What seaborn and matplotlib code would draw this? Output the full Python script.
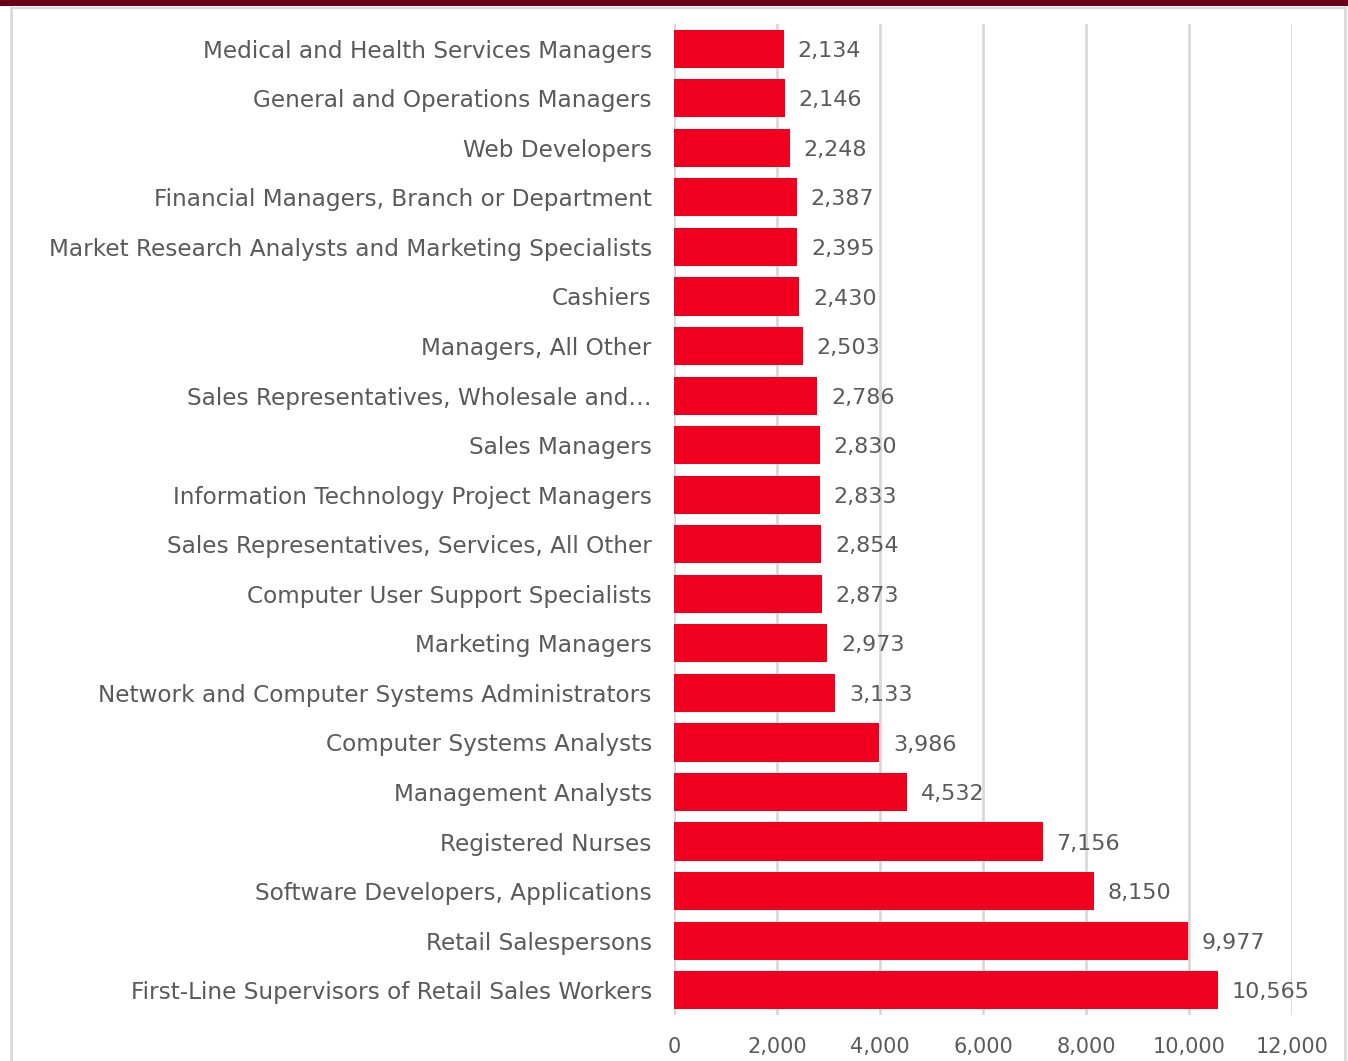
import matplotlib
matplotlib.use("Agg")
import matplotlib.pyplot as plt
import seaborn as sns
import pandas as pd
from matplotlib.patches import Rectangle
from matplotlib.lines import Line2D

occupations = [
    "Medical and Health Services Managers",
    "General and Operations Managers",
    "Web Developers",
    "Financial Managers, Branch or Department",
    "Market Research Analysts and Marketing Specialists",
    "Cashiers",
    "Managers, All Other",
    "Sales Representatives, Wholesale and…",
    "Sales Managers",
    "Information Technology Project Managers",
    "Sales Representatives, Services, All Other",
    "Computer User Support Specialists",
    "Marketing Managers",
    "Network and Computer Systems Administrators",
    "Computer Systems Analysts",
    "Management Analysts",
    "Registered Nurses",
    "Software Developers, Applications",
    "Retail Salespersons",
    "First-Line Supervisors of Retail Sales Workers",
]
postings = [2134, 2146, 2248, 2387, 2395, 2430, 2503, 2786, 2830, 2833,
            2854, 2873, 2973, 3133, 3986, 4532, 7156, 8150, 9977, 10565]
xticks = [0, 2000, 4000, 6000, 8000, 10000, 12000]

df = pd.DataFrame({"occupation": occupations, "postings": postings})

sns.set_theme(style="white")
plt.rcParams['font.family'] = ['DejaVu Sans']

TEXT = "#5a5a5a"
BAR = "#f0001e"
GRID = "#d9d9d9"

fig = plt.figure(figsize=(13.48, 10.61), dpi=100)
ax = fig.add_axes([0.5, 0.0434, 0.4585, 0.934])

sns.barplot(data=df, x="postings", y="occupation", color=BAR, width=0.77,
            saturation=1, ax=ax, edgecolor="none")

ax.set_xlim(0, 12000)
ax.set_ylim(len(occupations) - 0.5, -0.5)
ax.set_xticks(xticks)
ax.set_xticklabels([f"{t:,}" for t in xticks])
ax.xaxis.grid(True, color=GRID, linewidth=2)
ax.set_axisbelow(True)
for s in ax.spines.values():
    s.set_visible(False)
ax.axvline(0, color=GRID, linewidth=2, zorder=0)
ax.set_xlabel("")
ax.set_ylabel("")
ax.tick_params(axis="both", length=0, colors=TEXT)
ax.tick_params(axis="y", pad=16, labelsize=16.7)
ax.tick_params(axis="x", pad=16, labelsize=15)

for c in ax.containers:
    labels = ax.bar_label(c, labels=[f"{v:,}" for v in postings], padding=10,
                          color=TEXT, fontsize=16)
    for t in labels:
        t.set_va("center")
        t.xyann = (10, -1.5)

# frame decorations
fig.patches.append(Rectangle((0, 1 - 6 / 1061), 1, 6 / 1061, transform=fig.transFigure,
                             facecolor="#6d0019", edgecolor="none"))
fig.lines.append(Line2D([11 / 1348, 11 / 1348], [0, 1 - 7 / 1061], transform=fig.transFigure,
                        color="#d9d9d9", linewidth=2))
fig.lines.append(Line2D([1345 / 1348, 1345 / 1348], [0, 1 - 7 / 1061], transform=fig.transFigure,
                        color="#d9d9d9", linewidth=2))
fig.lines.append(Line2D([11 / 1348, 1345 / 1348], [1 - 7.5 / 1061, 1 - 7.5 / 1061],
                        transform=fig.transFigure, color="#d9d9d9", linewidth=1.5))

fig.savefig("out.png", dpi=100)
